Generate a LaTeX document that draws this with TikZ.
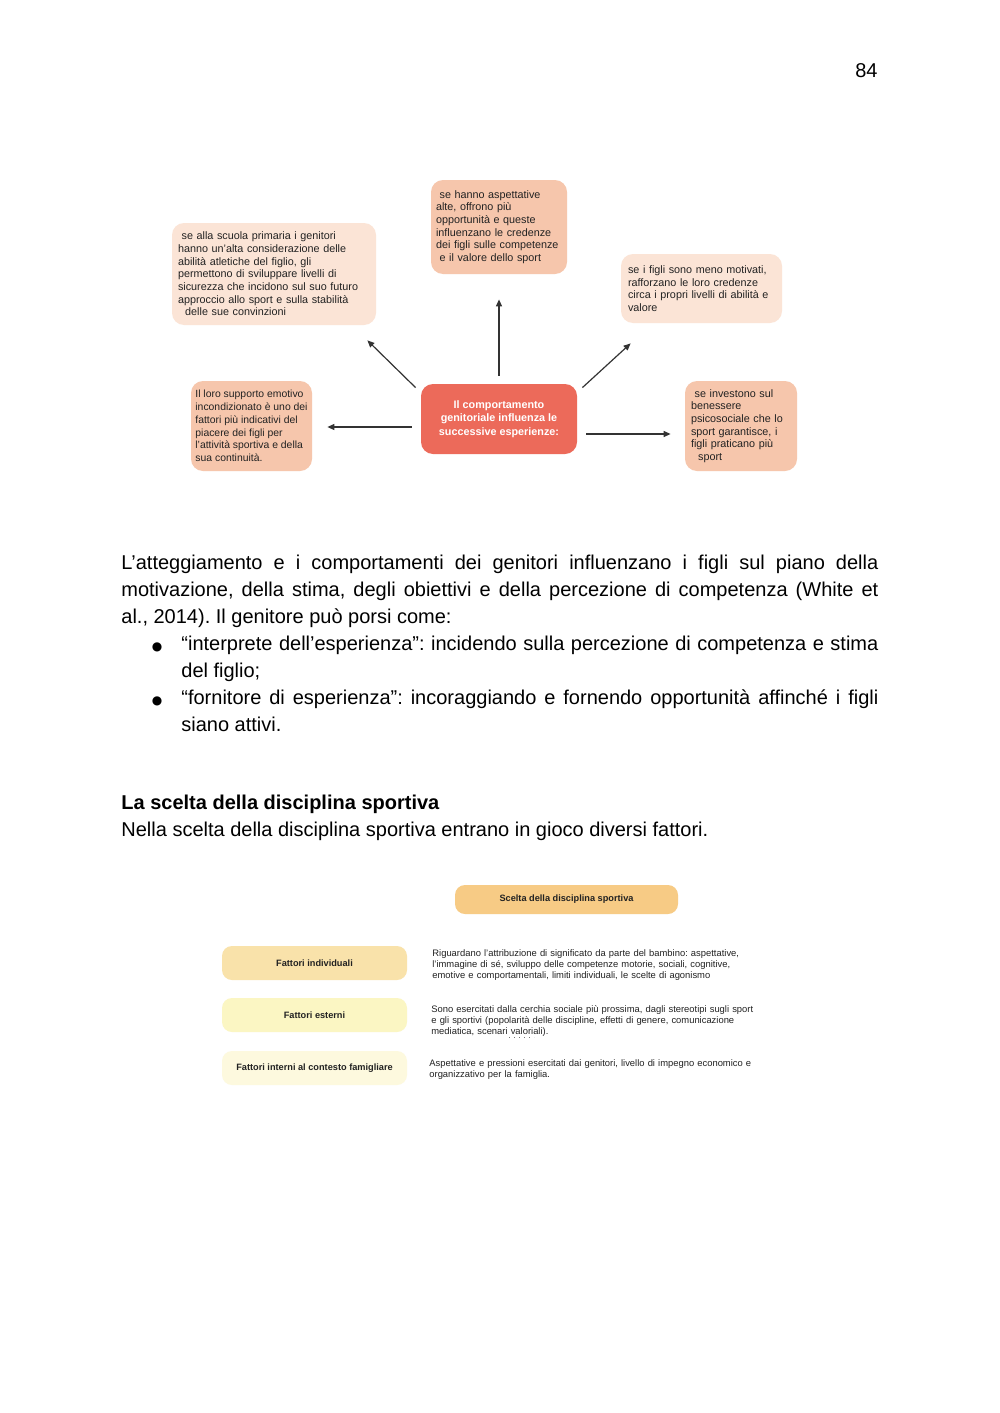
\documentclass[tikz,border=0pt]{standalone}
\usepackage{fontspec}
\setmainfont{Liberation Sans}
\newfontfamily\dfont{Liberation Sans}
\newfontfamily\symfont{DejaVu Sans}
\usetikzlibrary{arrows.meta}
\definecolor{pklight}{HTML}{FBE4D6}
\definecolor{pkmid}{HTML}{F6C6AC}
\definecolor{pkred}{HTML}{EC6A5A}
\definecolor{scelta}{HTML}{F7CB85}
\definecolor{find}{HTML}{F9E2AA}
\definecolor{fest}{HTML}{FBF6C3}
\definecolor{fint}{HTML}{FDF9DE}
\definecolor{txt}{HTML}{222222}
\begin{document}
\frenchspacing
\begin{tikzpicture}[x=0.5pt,y=-0.5pt,
  dbox/.style={rounded corners=6pt, inner sep=0pt, align=left, text=txt,
    font=\dfont\fontsize{5.4}{6.35}\selectfont},
  arr/.style={draw=black!80, line width=0.6pt, -{Triangle[length=3.5pt,width=3pt]}},
  fbox/.style={rounded corners=5pt, inner sep=0pt, text=txt,
    font=\dfont\bfseries\fontsize{4.6}{5.5}\selectfont,
    minimum width=92.5pt, minimum height=17pt},
  dtext/.style={font=\dfont\fontsize{4.7}{5.5}\selectfont, text=txt,
    text width=200pt, align=left, inner sep=0pt, anchor=base west},
  body/.style={font=\fontsize{10}{13.5}\selectfont, inner sep=0pt, anchor=base west},
  bul/.style={font=\symfont\fontsize{6}{8}\selectfont, inner sep=0pt, anchor=base}
]
\path[use as bounding box, fill=white] (0,0) rectangle (1000,1413);

% page number
\node[body, anchor=base east] (pn) at (878,78) {84};

% ---- top diagram ----
\node[dbox, fill=pklight, minimum width=102pt, minimum height=51pt, text width=96pt] (tl) at (274,274)
 {\ se alla scuola primaria i genitori\\hanno un’alta considerazione delle\\abilità atletiche del figlio, gli\\permettono di sviluppare livelli di\\sicurezza che incidono sul suo futuro\\approccio allo sport e sulla stabilità\\\ \ delle sue convinzioni};

\node[dbox, fill=pkmid, minimum width=68pt, minimum height=47pt, text width=63pt] (tc) at (499,227)
 {\ se hanno aspettative\\alte, offrono più\\opportunità e queste\\influenzano le credenze\\dei figli sulle competenze\\\ e il valore dello sport};

\node[dbox, fill=pklight, minimum width=80.5pt, minimum height=34.5pt, text width=73.5pt] (tr) at (701.5,288.5)
 {se i figli sono meno motivati,\\rafforzano le loro credenze\\circa i propri livelli di abilità e\\valore};

\node[dbox, fill=pkmid, minimum width=60.5pt, minimum height=45pt,
  font=\dfont\fontsize{5.2}{6.35}\selectfont] (lft) at (251.5,426)
 {Il loro supporto emotivo\\incondizionato è uno dei\\fattori più indicativi del\\piacere dei figli per\\l’attività sportiva e della\\sua continuità.};

\node[dbox, fill=pkred, minimum width=78pt, minimum height=35pt, align=center, text=white,
  font=\dfont\bfseries\fontsize{5.4}{6.8}\selectfont] (ctr) at (499,419)
 {Il comportamento\\genitoriale influenza le\\successive esperienze:};

\node[dbox, fill=pkmid, minimum width=56pt, minimum height=45pt, text width=50pt] (rgt) at (741,426)
 {\ se investono sul\\benessere\\psicosociale che lo\\sport garantisce, i\\figli praticano più\\\ \ sport};

\draw[arr, shorten <=4pt, shorten >=12.5pt] (ctr.north) -- (tc.south);
\draw[arr] ([shift={(-5,4)}]ctr.north west) -- ([shift={(-9,15)}]tl.south east);
\draw[arr] ([shift={(5,4)}]ctr.north east) -- ([shift={(10,20)}]tr.south west);
\draw[arr] ([shift={(-9,8)}]ctr.west) -- ([shift={(15,1)}]lft.east);
\draw[arr] ([shift={(9,15)}]ctr.east) -- ([shift={(-14,8)}]rgt.west);

% ---- body text ----
\node[body, text width=378.5pt, align=justify] (p1) at (121,569)
 {L’atteggiamento e i comportamenti dei genitori influenzano i figli sul piano della\linebreak motivazione, della stima, degli obiettivi e della percezione di competenza (White et\linebreak al., 2014). Il genitore può porsi come:};
\node[bul] (b1) at (157,650) {●};
\node[body, text width=348.5pt, align=justify] (t1) at (181,650)
 {“interprete dell’esperienza”: incidendo sulla percezione di competenza e stima\linebreak del figlio;};
\node[bul] (b2) at (157,704) {●};
\node[body, text width=348.5pt, align=justify] (t2) at (181,704)
 {“fornitore di esperienza”: incoraggiando e fornendo opportunità affinché i figli\linebreak siano attivi.};
\node[body, font=\bfseries\fontsize{10}{13.5}\selectfont] (h) at (121,809) {La scelta della disciplina sportiva};
\node[body] (s) at (121,836) {Nella scelta della disciplina sportiva entrano in gioco diversi fattori.};

% ---- bottom diagram ----
\node[fbox, fill=scelta, minimum width=111.5pt, minimum height=14.5pt] (sc) at (566.5,899.5) {Scelta della disciplina sportiva};
\node[fbox, fill=find] (fi) at (314.5,963) {Fattori individuali};
\node[fbox, fill=fest] (fe) at (314.5,1015) {Fattori esterni};
\node[fbox, fill=fint] (ff) at (314.5,1068) {Fattori interni al contesto famigliare};

\node[dtext] (di) at (432,956)
 {Riguardano l’attribuzione di significato da parte del bambino: aspettative,\\l’immagine di sé, sviluppo delle competenze motorie, sociali, cognitive,\\emotive e comportamentali, limiti individuali, le scelte di agonismo};
\node[dtext] (de) at (431,1012)
 {Sono esercitati dalla cerchia sociale più prossima, dagli stereotipi sugli sport\\e gli sportivi (popolarità delle discipline, effetti di genere, comunicazione\\mediatica, scenari valoriali).};
\draw[black!55, line width=0.5pt, dotted] ([shift={(78,25)}]de.base west) -- ([shift={(103,25)}]de.base west);
\node[dtext] (df) at (429,1066)
 {Aspettative e pressioni esercitati dai genitori, livello di impegno economico e\\organizzativo per la famiglia.};
\end{tikzpicture}
\end{document}
